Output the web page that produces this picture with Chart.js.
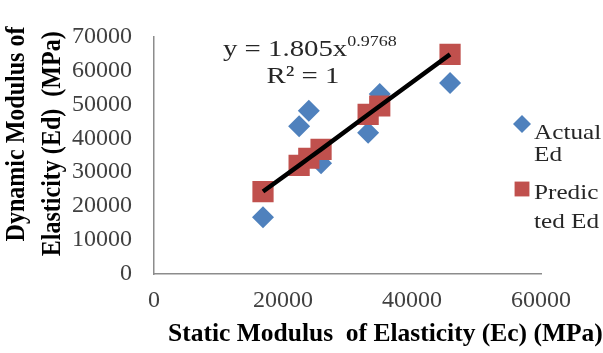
<!DOCTYPE html>
<html>
<head>
<meta charset="utf-8">
<script src="https://cdn.jsdelivr.net/npm/chart.js@4"></script>
<style>
  html, body { margin: 0; padding: 0; background: #fff; }
  canvas { display: block; }
</style>
</head>
<body>
<canvas id="chart" width="603" height="353"></canvas>
<script>
// static modulus (x) shared by both series
const staticEc = [16900, 22500, 24000, 25900, 33200, 35000, 45900];
const actualEd = [16700, 43500, 48100, 32600, 41600, 53000, 56300];
const predictedEd = [24300, 32000, 34100, 36700, 47000, 49500, 64700];

const seriesNames = ['Actual Ed', 'Predicted Ed'];
const legendLines = [['Actual', 'Ed'], ['Predic', 'ted Ed']];
const xTitle = 'Static Modulus  of Elasticity (Ec) (MPa)';
const yTitle = ['Dynamic Modulus of', 'Elasticity (Ed)  (MPa)'];
const eqMain = 'y = 1.805x';
const eqPow = '0.9768';
const eqR2 = 'R² = 1';

const blue = '#4F81BD';
const red = '#C0504D';
const serif = '"Liberation Serif", "Times New Roman", serif';

const toPoints = ys => staticEc.map((x, i) => ({ x: x, y: ys[i] }));

// draws stretched text like the original export
function wideText(ctx, text, x, y, size, sx, align) {
  ctx.save();
  ctx.font = size + 'px ' + serif;
  const w = ctx.measureText(text).width * sx;
  let left = x;
  if (align === 'center') left = x - w / 2;
  ctx.translate(left, y);
  ctx.scale(sx, 1);
  ctx.textAlign = 'left';
  ctx.textBaseline = 'alphabetic';
  ctx.fillText(text, 0, 0);
  ctx.restore();
  return w;
}

const extras = {
  id: 'extras',
  afterDraw(chart) {
    const ctx = chart.ctx;
    const area = chart.chartArea;
    ctx.save();
    ctx.fillStyle = '#000';

    // x axis title
    ctx.font = 'bold 25.5px ' + serif;
    ctx.textAlign = 'left';
    ctx.textBaseline = 'alphabetic';
    ctx.fillText(xTitle, 168, 341);

    // y axis title, two rotated lines (squeezed along the text)
    ctx.save();
    ctx.translate(0, 134);
    ctx.rotate(-Math.PI / 2);
    ctx.scale(0.89, 1);
    ctx.font = 'bold 27px ' + serif;
    ctx.textAlign = 'center';
    ctx.textBaseline = 'middle';
    ctx.fillText(yTitle[0], 0, 17);
    ctx.fillText(yTitle[1], -11, 53);
    ctx.restore();

    // trendline equation
    ctx.fillStyle = '#262626';
    const w = wideText(ctx, eqMain, area.left + 69, 56, 24, 1.2);
    wideText(ctx, eqPow, area.left + 69 + w, 46, 15, 1.2);
    wideText(ctx, eqR2, area.left + 149, 83, 24, 1.2, 'center');

    // legend
    const items = [
      { color: blue, style: 'rectRot', r: 9, y: 124, base: [139, 161] },
      { color: red, style: 'rect', r: 10.5, y: 189, base: [199, 228] }
    ];
    items.forEach((it, i) => {
      ctx.fillStyle = it.color;
      ctx.strokeStyle = it.color;
      Chart.helpers.drawPoint(ctx, { pointStyle: it.style, radius: it.r, borderWidth: 0 }, 522, it.y);
      ctx.fillStyle = '#262626';
      legendLines[i].forEach((line, j) => {
        wideText(ctx, line, 534, it.base[j], 21, 1.2);
      });
    });
    ctx.restore();
  }
};

const plainTick = v => String(v);

new Chart(document.getElementById('chart'), {
  data: {
    datasets: [
      {
        type: 'line',
        label: 'Power (Predicted Ed)',
        data: toPoints(predictedEd),
        borderColor: '#000',
        borderWidth: 4.5,
        pointRadius: 0,
        fill: false,
        order: 0
      },
      {
        type: 'scatter',
        label: seriesNames[1],
        data: toPoints(predictedEd),
        pointStyle: 'rect',
        pointRadius: 15,
        backgroundColor: red,
        borderColor: red,
        borderWidth: 0,
        order: 1
      },
      {
        type: 'scatter',
        label: seriesNames[0],
        data: toPoints(actualEd),
        pointStyle: 'rectRot',
        pointRadius: 11,
        backgroundColor: blue,
        borderColor: blue,
        borderWidth: 0,
        order: 2
      }
    ]
  },
  options: {
    responsive: false,
    animation: false,
    devicePixelRatio: 1,
    layout: { padding: { top: 18, right: 62, left: 0, bottom: 0 } },
    plugins: {
      legend: { display: false },
      tooltip: { enabled: false }
    },
    scales: {
      x: {
        type: 'linear',
        min: 0,
        max: 60000,
        afterFit: s => { s.height = 79; },
        ticks: {
          stepSize: 20000,
          padding: 12,
          color: '#404040',
          callback: plainTick,
          font: { family: serif, size: 24 }
        },
        grid: { display: false, drawTicks: false },
        border: { display: true, color: '#8c8c8c', width: 1.5 }
      },
      y: {
        type: 'linear',
        min: 0,
        max: 70000,
        afterFit: s => { s.width = 154; },
        ticks: {
          stepSize: 10000,
          padding: 22,
          color: '#404040',
          callback: plainTick,
          font: { family: serif, size: 24 }
        },
        grid: { display: false, drawTicks: false },
        border: { display: true, color: '#8c8c8c', width: 1.5 }
      }
    }
  },
  plugins: [extras]
});
</script>
</body>
</html>
